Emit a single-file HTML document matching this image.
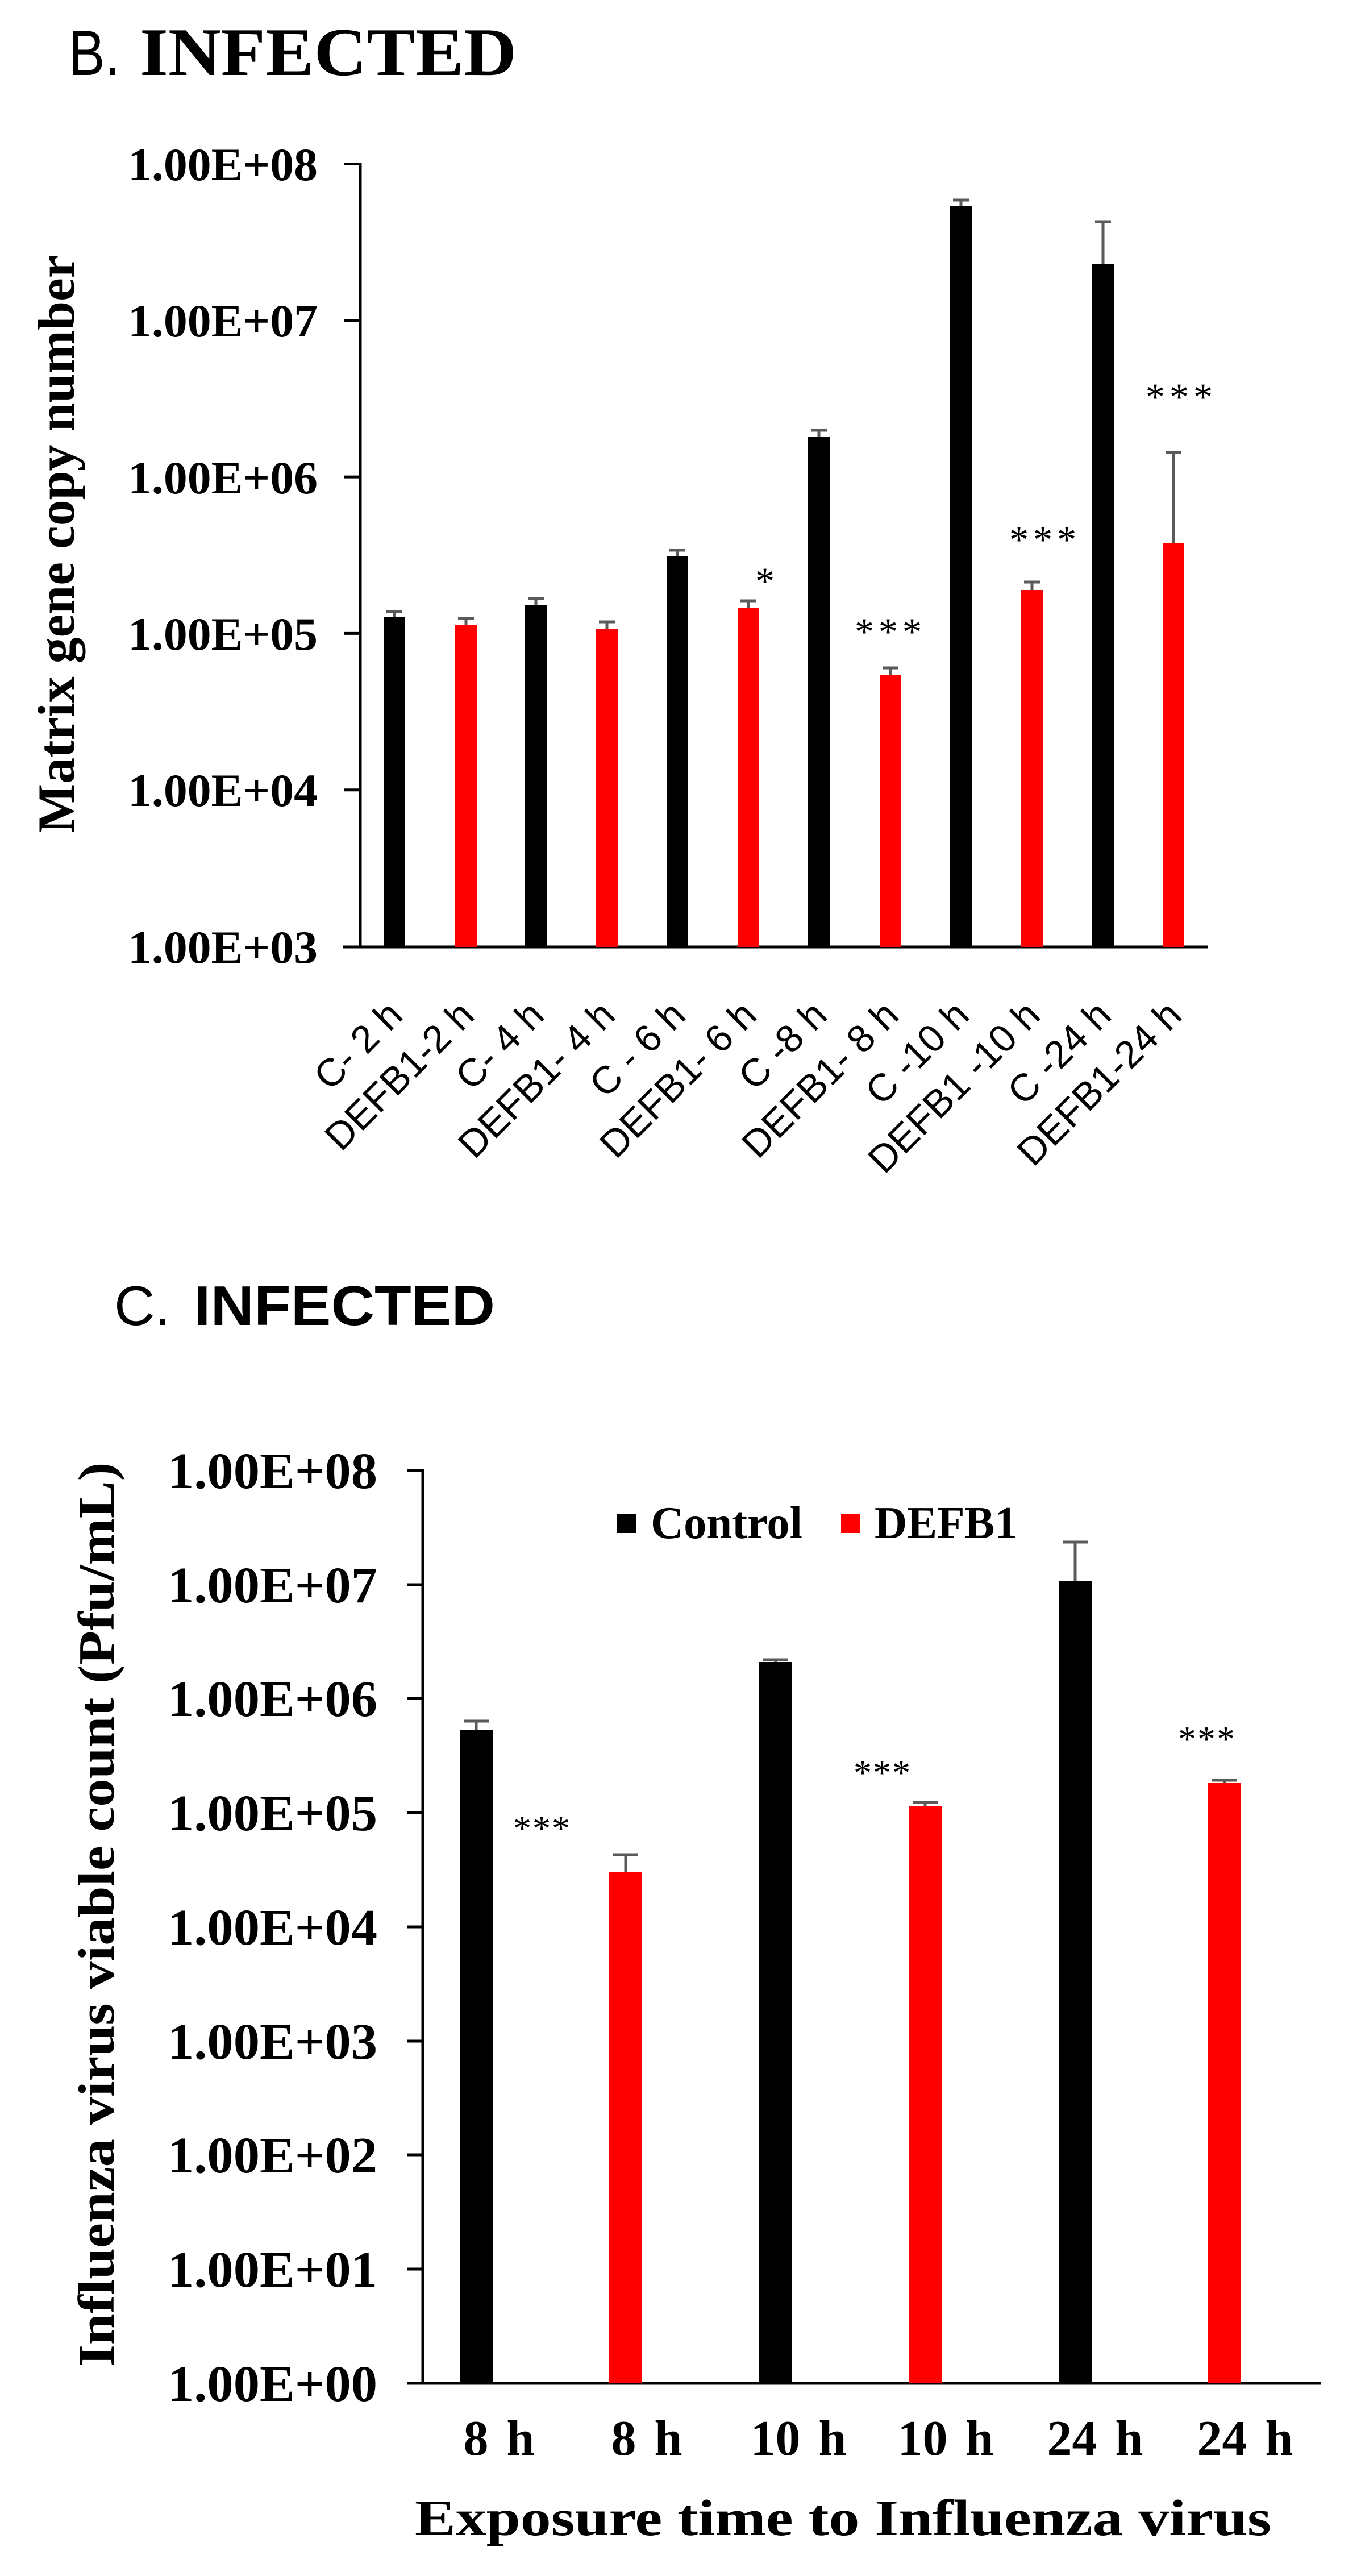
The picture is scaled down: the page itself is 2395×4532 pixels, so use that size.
<!DOCTYPE html>
<html><head><meta charset="utf-8"><style>html,body{margin:0;padding:0;background:#fff}svg{display:block}</style></head>
<body>
<svg width="2395" height="4532" viewBox="0 0 2395 4532" xmlns="http://www.w3.org/2000/svg">
<rect width="2395" height="4532" fill="#fff"/>
<!-- Title B -->
<text x="121" y="132" font-family="Liberation Sans, sans-serif" font-size="112" textLength="90" lengthAdjust="spacingAndGlyphs">B.</text>
<text x="246" y="132" font-family="Liberation Serif, serif" font-weight="bold" font-size="120" textLength="663" lengthAdjust="spacingAndGlyphs">INFECTED</text>

<!-- Chart B axes -->
<g stroke="#000" stroke-width="5" fill="none">
<line x1="634" y1="286" x2="634" y2="1666"/>
<line x1="604" y1="1666" x2="2126" y2="1666"/>
<line x1="606" y1="288.5" x2="634" y2="288.5"/>
<line x1="606" y1="563.8" x2="634" y2="563.8"/>
<line x1="606" y1="839.1" x2="634" y2="839.1"/>
<line x1="606" y1="1114.4" x2="634" y2="1114.4"/>
<line x1="606" y1="1389.7" x2="634" y2="1389.7"/>
</g>
<g font-family="Liberation Serif, serif" font-weight="bold" font-size="82" text-anchor="end">
<text x="559" y="317" textLength="334" lengthAdjust="spacingAndGlyphs">1.00E+08</text>
<text x="559" y="592" textLength="334" lengthAdjust="spacingAndGlyphs">1.00E+07</text>
<text x="559" y="868" textLength="334" lengthAdjust="spacingAndGlyphs">1.00E+06</text>
<text x="559" y="1143" textLength="334" lengthAdjust="spacingAndGlyphs">1.00E+05</text>
<text x="559" y="1418" textLength="334" lengthAdjust="spacingAndGlyphs">1.00E+04</text>
<text x="559" y="1694" textLength="334" lengthAdjust="spacingAndGlyphs">1.00E+03</text>
</g>
<text transform="translate(130,957) rotate(-90)" text-anchor="middle" font-family="Liberation Serif, serif" font-weight="bold" font-size="92" textLength="1017" lengthAdjust="spacingAndGlyphs">Matrix gene copy number</text>

<!-- bars B -->
<g>
<rect x="675" y="1086" width="38" height="580" fill="#000"/>
<rect x="801" y="1099" width="38" height="567" fill="#f00"/>
<rect x="924" y="1064" width="38" height="602" fill="#000"/>
<rect x="1049" y="1107" width="38" height="559" fill="#f00"/>
<rect x="1173" y="978" width="38" height="688" fill="#000"/>
<rect x="1298" y="1069" width="38" height="597" fill="#f00"/>
<rect x="1422" y="769" width="38" height="897" fill="#000"/>
<rect x="1548" y="1188" width="38" height="478" fill="#f00"/>
<rect x="1672" y="362" width="38" height="1304" fill="#000"/>
<rect x="1797" y="1038" width="38" height="628" fill="#f00"/>
<rect x="1922" y="465" width="38" height="1201" fill="#000"/>
<rect x="2046" y="956" width="38" height="710" fill="#f00"/>
</g>
<g stroke="#5a5a5a" stroke-width="5">
<path d="M694 1086V1076M680 1076H708"/>
<path d="M820 1099V1088M806 1088H834"/>
<path d="M943 1064V1053M929 1053H957"/>
<path d="M1068 1107V1094M1054 1094H1082"/>
<path d="M1192 978V968M1178 968H1206"/>
<path d="M1317 1069V1057M1303 1057H1331"/>
<path d="M1441 769V757M1427 757H1455"/>
<path d="M1567 1188V1175M1553 1175H1581"/>
<path d="M1691 362V352M1677 352H1705"/>
<path d="M1816 1038V1024M1802 1024H1830"/>
<path d="M1941 465V390M1927 390H1955"/>
<path d="M2065 956V796M2051 796H2079"/>
</g>
<g font-family="Liberation Serif, serif" font-size="68" text-anchor="middle">
<text x="1346" y="1045">*</text>
<text x="1567" y="1134" letter-spacing="8">***</text>
<text x="1839" y="972" letter-spacing="8">***</text>
<text x="2079" y="721" letter-spacing="8">***</text>
</g>
<g font-family="Liberation Sans, sans-serif" font-size="68" text-anchor="end">
<text transform="translate(712,1790) rotate(-45)">C- 2 h</text>
<text transform="translate(838,1790) rotate(-45)">DEFB1-2 h</text>
<text transform="translate(961,1790) rotate(-45)">C- 4 h</text>
<text transform="translate(1086,1790) rotate(-45)">DEFB1- 4 h</text>
<text transform="translate(1210,1790) rotate(-45)">C - 6 h</text>
<text transform="translate(1335,1790) rotate(-45)">DEFB1- 6 h</text>
<text transform="translate(1459,1790) rotate(-45)">C -8 h</text>
<text transform="translate(1585,1790) rotate(-45)">DEFB1- 8 h</text>
<text transform="translate(1709,1790) rotate(-45)">C -10 h</text>
<text transform="translate(1834,1790) rotate(-45)">DEFB1 -10 h</text>
<text transform="translate(1959,1790) rotate(-45)">C -24 h</text>
<text transform="translate(2083,1790) rotate(-45)">DEFB1-24 h</text>
</g>

<!-- Title C -->
<text x="201" y="2331" font-family="Liberation Sans, sans-serif" font-size="98" textLength="99" lengthAdjust="spacingAndGlyphs">C.</text>
<text x="341" y="2331" font-family="Liberation Sans, sans-serif" font-weight="bold" font-size="98" textLength="530" lengthAdjust="spacingAndGlyphs">INFECTED</text>

<!-- Chart C axes -->
<g stroke="#000" stroke-width="5" fill="none">
<line x1="744" y1="2585" x2="744" y2="4193"/>
<line x1="716" y1="4193" x2="2324" y2="4193"/>
<line x1="716" y1="2587" x2="744" y2="2587"/>
<line x1="716" y1="2788" x2="744" y2="2788"/>
<line x1="716" y1="2988" x2="744" y2="2988"/>
<line x1="716" y1="3189" x2="744" y2="3189"/>
<line x1="716" y1="3390" x2="744" y2="3390"/>
<line x1="716" y1="3591" x2="744" y2="3591"/>
<line x1="716" y1="3791" x2="744" y2="3791"/>
<line x1="716" y1="3992" x2="744" y2="3992"/>
</g>
<g font-family="Liberation Serif, serif" font-weight="bold" font-size="90" text-anchor="end">
<text x="664" y="2618" textLength="369" lengthAdjust="spacingAndGlyphs">1.00E+08</text>
<text x="664" y="2819" textLength="369" lengthAdjust="spacingAndGlyphs">1.00E+07</text>
<text x="664" y="3019" textLength="369" lengthAdjust="spacingAndGlyphs">1.00E+06</text>
<text x="664" y="3220" textLength="369" lengthAdjust="spacingAndGlyphs">1.00E+05</text>
<text x="664" y="3421" textLength="369" lengthAdjust="spacingAndGlyphs">1.00E+04</text>
<text x="664" y="3622" textLength="369" lengthAdjust="spacingAndGlyphs">1.00E+03</text>
<text x="664" y="3822" textLength="369" lengthAdjust="spacingAndGlyphs">1.00E+02</text>
<text x="664" y="4023" textLength="369" lengthAdjust="spacingAndGlyphs">1.00E+01</text>
<text x="664" y="4224" textLength="369" lengthAdjust="spacingAndGlyphs">1.00E+00</text>
</g>
<text transform="translate(200,3368) rotate(-90)" text-anchor="middle" font-family="Liberation Serif, serif" font-weight="bold" font-size="90" textLength="1591" lengthAdjust="spacingAndGlyphs">Influenza virus viable count (Pfu/mL)</text>

<!-- legend -->
<rect x="1086" y="2664" width="33" height="33" fill="#000"/>
<text x="1145" y="2706" font-family="Liberation Serif, serif" font-weight="bold" font-size="80" textLength="267" lengthAdjust="spacingAndGlyphs">Control</text>
<rect x="1480" y="2664" width="33" height="33" fill="#f00"/>
<text x="1539" y="2706" font-family="Liberation Serif, serif" font-weight="bold" font-size="80" textLength="251" lengthAdjust="spacingAndGlyphs">DEFB1</text>

<!-- bars C -->
<rect x="809" y="3043" width="58" height="1150" fill="#000"/>
<rect x="1072" y="3294" width="58" height="899" fill="#f00"/>
<rect x="1336" y="2924" width="58" height="1269" fill="#000"/>
<rect x="1599" y="3178" width="58" height="1015" fill="#f00"/>
<rect x="1863" y="2781" width="58" height="1412" fill="#000"/>
<rect x="2126" y="3137" width="58" height="1056" fill="#f00"/>
<g stroke="#5a5a5a" stroke-width="5">
<path d="M838 3043V3028M816 3028H860"/>
<path d="M1101 3294V3263M1079 3263H1123"/>
<path d="M1365 2924V2920M1343 2920H1387"/>
<path d="M1628 3178V3171M1606 3171H1650"/>
<path d="M1892 2781V2713M1870 2713H1914"/>
<path d="M2155 3137V3132M2133 3132H2177"/>
</g>
<g font-family="Liberation Serif, serif" font-size="64" text-anchor="middle">
<text x="954" y="3238" letter-spacing="2">***</text>
<text x="1553" y="3140" letter-spacing="2">***</text>
<text x="2124" y="3081" letter-spacing="2">***</text>
</g>
<g font-family="Liberation Serif, serif" font-weight="bold" font-size="88" text-anchor="middle" word-spacing="10">
<text x="878" y="4319">8 h</text>
<text x="1138" y="4319">8 h</text>
<text x="1405" y="4319">10 h</text>
<text x="1664" y="4319">10 h</text>
<text x="1927" y="4319">24 h</text>
<text x="2191" y="4319">24 h</text>
</g>
<text x="730" y="4460" font-family="Liberation Serif, serif" font-weight="bold" font-size="90" textLength="1507" lengthAdjust="spacingAndGlyphs">Exposure time to Influenza virus</text>
</svg>
</body></html>
